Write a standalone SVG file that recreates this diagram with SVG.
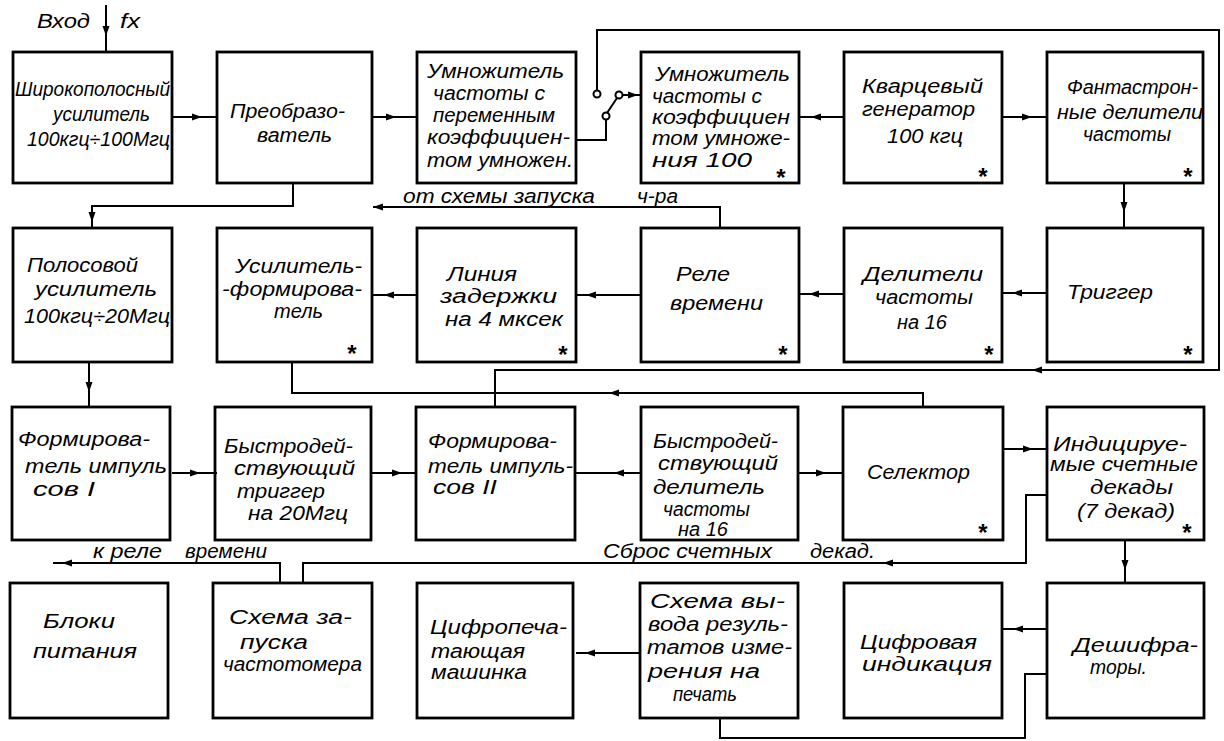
<svg xmlns="http://www.w3.org/2000/svg" xmlns:xlink="http://www.w3.org/1999/xlink" width="1224" height="741" viewBox="0 0 1224 741">
<style>
.box{fill:none;stroke:#000;stroke-width:2.8}
.ln{fill:none;stroke:#000;stroke-width:2}
.t{font-family:"Liberation Sans",Arial,sans-serif;font-style:italic;font-size:20px;fill:#000}
.lb{font-family:"Liberation Sans",Arial,sans-serif;font-style:italic;font-size:20px;fill:#000}
.st{font-family:"Liberation Sans",Arial,sans-serif;font-weight:bold;font-size:24px;fill:#000;text-anchor:middle}
.sw{fill:#fff;stroke:#000;stroke-width:2}
</style>
<defs>
<path id="ah" d="M0 0 L-10 -3.5 L-10 3.5 Z" fill="#000"/>
</defs>
<rect width="1224" height="741" fill="#fff"/>

<g id="connectors">
<path class="ln" d="M106 5 V52"/>
<use xlink:href="#ah" transform="translate(106,36) rotate(90)"/>
<path class="ln" d="M172 117 H217"/>
<use xlink:href="#ah" transform="translate(202,117)"/>
<path class="ln" d="M372 117 H417"/>
<use xlink:href="#ah" transform="translate(396,117)"/>
<path class="ln" d="M576 140 H606 V120"/>
<path class="ln" d="M607 113 L617 98"/>
<path class="ln" d="M622 95 H641"/>
<use xlink:href="#ah" transform="translate(638,95)"/>
<path class="ln" d="M597 90 V30 H1219 V370 H495 V407"/>
<use xlink:href="#ah" transform="translate(1032,370) rotate(180)"/>
<circle class="sw" cx="606" cy="116" r="3.5"/>
<circle class="sw" cx="619" cy="95" r="3.5"/>
<circle class="sw" cx="597" cy="94" r="3.5"/>
<path class="ln" d="M844 117 H799"/>
<use xlink:href="#ah" transform="translate(811,117) rotate(180)"/>
<path class="ln" d="M1002 117 H1047"/>
<use xlink:href="#ah" transform="translate(1032,117)"/>
<path class="ln" d="M1124 183 V228"/>
<use xlink:href="#ah" transform="translate(1124,212) rotate(90)"/>
<path class="ln" d="M1047 293 H1002"/>
<use xlink:href="#ah" transform="translate(1012,293) rotate(180)"/>
<path class="ln" d="M844 294 H799"/>
<use xlink:href="#ah" transform="translate(809,294) rotate(180)"/>
<path class="ln" d="M641 295 H576"/>
<use xlink:href="#ah" transform="translate(586,295) rotate(180)"/>
<path class="ln" d="M417 295 H372"/>
<use xlink:href="#ah" transform="translate(384,295) rotate(180)"/>
<path class="ln" d="M720 228 V207 H373"/>
<use xlink:href="#ah" transform="translate(373,207) rotate(180)"/>
<path class="ln" d="M293 183 V206 H92 V228"/>
<use xlink:href="#ah" transform="translate(92,222) rotate(90)"/>
<path class="ln" d="M89 362 V407"/>
<use xlink:href="#ah" transform="translate(89,392) rotate(90)"/>
<path class="ln" d="M172 473 H217"/>
<use xlink:href="#ah" transform="translate(200,473)"/>
<path class="ln" d="M372 473 H417"/>
<use xlink:href="#ah" transform="translate(402,473)"/>
<path class="ln" d="M576 473 H641"/>
<use xlink:href="#ah" transform="translate(614,473) rotate(180)"/>
<path class="ln" d="M799 473 H844"/>
<use xlink:href="#ah" transform="translate(826,473)"/>
<path class="ln" d="M1002 449 H1047"/>
<use xlink:href="#ah" transform="translate(1033,449)"/>
<path class="ln" d="M1125 540 V583"/>
<use xlink:href="#ah" transform="translate(1125,570) rotate(90)"/>
<path class="ln" d="M1047 495 H1026 V563 H303 V583"/>
<use xlink:href="#ah" transform="translate(883,563) rotate(180)"/>
<path class="ln" d="M280 583 V563 H53"/>
<use xlink:href="#ah" transform="translate(62,563) rotate(180)"/>
<path class="ln" d="M1047 629 H1002"/>
<use xlink:href="#ah" transform="translate(1013,629) rotate(180)"/>
<path class="ln" d="M1047 674 H1025 V738 H720 V718"/>
<path class="ln" d="M641 653 H576"/>
<use xlink:href="#ah" transform="translate(585,653) rotate(180)"/>
<path class="ln" d="M292 362 V393 H923 V407"/>
<use xlink:href="#ah" transform="translate(609,393) rotate(180)"/>
</g>

<g id="labels">
<text class="lb" x="37" y="28" textLength="53" lengthAdjust="spacingAndGlyphs">Вход</text>
<text class="lb" x="120" y="28" textLength="20" lengthAdjust="spacingAndGlyphs">fx</text>
<text class="lb" x="403" y="203" textLength="192" lengthAdjust="spacingAndGlyphs">от схемы запуска</text>
<text class="lb" x="637" y="203" textLength="41" lengthAdjust="spacingAndGlyphs">ч-ра</text>
<text class="lb" x="93" y="558" textLength="69" lengthAdjust="spacingAndGlyphs">к реле</text>
<text class="lb" x="185" y="558" textLength="82" lengthAdjust="spacingAndGlyphs">времени</text>
<text class="lb" x="603" y="558" textLength="169" lengthAdjust="spacingAndGlyphs">Сброс счетных</text>
<text class="lb" x="810" y="558" textLength="65" lengthAdjust="spacingAndGlyphs">декад.</text>
</g>

<g id="n-wideband">
<rect class="box" x="13" y="52" width="159" height="131"/>
<text class="t" x="15" y="96" textLength="155" lengthAdjust="spacingAndGlyphs">Широкополосный</text>
<text class="t" x="53" y="121" textLength="97" lengthAdjust="spacingAndGlyphs">усилитель</text>
<text class="t" x="27" y="146" textLength="143" lengthAdjust="spacingAndGlyphs">100кгц÷100Мгц</text>
</g>
<g id="n-converter">
<rect class="box" x="217" y="52" width="155" height="131"/>
<text class="t" x="230" y="118" textLength="115" lengthAdjust="spacingAndGlyphs">Преобразо-</text>
<text class="t" x="257" y="142" textLength="75" lengthAdjust="spacingAndGlyphs">ватель</text>
</g>
<g id="n-varmult">
<rect class="box" x="417" y="52" width="159" height="131"/>
<text class="t" x="427" y="78" textLength="137" lengthAdjust="spacingAndGlyphs">Умножитель</text>
<text class="t" x="433" y="100" textLength="112" lengthAdjust="spacingAndGlyphs">частоты с</text>
<text class="t" x="433" y="122" textLength="122" lengthAdjust="spacingAndGlyphs">переменным</text>
<text class="t" x="427" y="144" textLength="143" lengthAdjust="spacingAndGlyphs">коэффициен-</text>
<text class="t" x="427" y="167" textLength="146" lengthAdjust="spacingAndGlyphs">том умножен.</text>
</g>
<g id="n-mult100">
<rect class="box" x="641" y="52" width="158" height="131"/>
<text class="t" x="655" y="81" textLength="135" lengthAdjust="spacingAndGlyphs">Умножитель</text>
<text class="t" x="652" y="103" textLength="110" lengthAdjust="spacingAndGlyphs">частоты с</text>
<text class="t" x="652" y="124" textLength="138" lengthAdjust="spacingAndGlyphs">коэффициен</text>
<text class="t" x="652" y="145" textLength="138" lengthAdjust="spacingAndGlyphs">том умноже-</text>
<text class="t" x="652" y="167" textLength="100" lengthAdjust="spacingAndGlyphs">ния  100</text>
<text class="st" x="781" y="186">*</text>
</g>
<g id="n-quartz">
<rect class="box" x="844" y="52" width="158" height="131"/>
<text class="t" x="862" y="93" textLength="121" lengthAdjust="spacingAndGlyphs">Кварцевый</text>
<text class="t" x="862" y="116" textLength="113" lengthAdjust="spacingAndGlyphs">генератор</text>
<text class="t" x="887" y="143" textLength="76" lengthAdjust="spacingAndGlyphs">100 кгц</text>
<text class="st" x="983" y="185">*</text>
</g>
<g id="n-phantastron">
<rect class="box" x="1047" y="52" width="156" height="131"/>
<text class="t" x="1067" y="94" textLength="131" lengthAdjust="spacingAndGlyphs">Фантастрон-</text>
<text class="t" x="1057" y="119" textLength="146" lengthAdjust="spacingAndGlyphs">ные делители</text>
<text class="t" x="1083" y="141" textLength="88" lengthAdjust="spacingAndGlyphs">частоты</text>
<text class="st" x="1188" y="185">*</text>
</g>

<g id="n-bandpass">
<rect class="box" x="13" y="228" width="159" height="134"/>
<text class="t" x="27" y="272" textLength="111" lengthAdjust="spacingAndGlyphs">Полосовой</text>
<text class="t" x="35" y="296" textLength="122" lengthAdjust="spacingAndGlyphs">усилитель</text>
<text class="t" x="24" y="323" textLength="146" lengthAdjust="spacingAndGlyphs">100кгц÷20Мгц</text>
</g>
<g id="n-ampshaper">
<rect class="box" x="217" y="228" width="155" height="134"/>
<text class="t" x="235" y="273" textLength="127" lengthAdjust="spacingAndGlyphs">Усилитель-</text>
<text class="t" x="222" y="296" textLength="140" lengthAdjust="spacingAndGlyphs">-формирова-</text>
<text class="t" x="274" y="318" textLength="49" lengthAdjust="spacingAndGlyphs">тель</text>
<text class="st" x="352" y="362">*</text>
</g>
<g id="n-delay">
<rect class="box" x="417" y="228" width="159" height="134"/>
<text class="t" x="447" y="281" textLength="70" lengthAdjust="spacingAndGlyphs">Линия</text>
<text class="t" x="440" y="303" textLength="117" lengthAdjust="spacingAndGlyphs">задержки</text>
<text class="t" x="445" y="326" textLength="118" lengthAdjust="spacingAndGlyphs">на 4 мксек</text>
<text class="st" x="563" y="363">*</text>
</g>
<g id="n-relay">
<rect class="box" x="641" y="228" width="158" height="134"/>
<text class="t" x="676" y="281" textLength="54" lengthAdjust="spacingAndGlyphs">Реле</text>
<text class="t" x="670" y="310" textLength="93" lengthAdjust="spacingAndGlyphs">времени</text>
<text class="st" x="783" y="363">*</text>
</g>
<g id="n-div16">
<rect class="box" x="844" y="228" width="158" height="134"/>
<text class="t" x="863" y="281" textLength="120" lengthAdjust="spacingAndGlyphs">Делители</text>
<text class="t" x="875" y="304" textLength="98" lengthAdjust="spacingAndGlyphs">частоты</text>
<text class="t" x="897" y="329" textLength="50" lengthAdjust="spacingAndGlyphs">на 16</text>
<text class="st" x="989" y="363">*</text>
</g>
<g id="n-trigger">
<rect class="box" x="1047" y="228" width="156" height="134"/>
<text class="t" x="1067" y="299" textLength="86" lengthAdjust="spacingAndGlyphs">Триггер</text>
<text class="st" x="1188" y="363">*</text>
</g>

<g id="n-shaper1">
<rect class="box" x="12" y="407" width="158" height="133"/>
<text class="t" x="18" y="446" textLength="132" lengthAdjust="spacingAndGlyphs">Формирова-</text>
<text class="t" x="25" y="473" textLength="142" lengthAdjust="spacingAndGlyphs">тель импуль</text>
<text class="t" x="33" y="496" textLength="62" lengthAdjust="spacingAndGlyphs">сов I</text>
</g>
<g id="n-fasttrigger">
<rect class="box" x="215" y="407" width="156" height="133"/>
<text class="t" x="224" y="453" textLength="129" lengthAdjust="spacingAndGlyphs">Быстродей-</text>
<text class="t" x="234" y="475" textLength="121" lengthAdjust="spacingAndGlyphs">ствующий</text>
<text class="t" x="237" y="498" textLength="88" lengthAdjust="spacingAndGlyphs">триггер</text>
<text class="t" x="248" y="520" textLength="100" lengthAdjust="spacingAndGlyphs">на 20Мгц</text>
</g>
<g id="n-shaper2">
<rect class="box" x="416" y="407" width="159" height="133"/>
<text class="t" x="428" y="448" textLength="129" lengthAdjust="spacingAndGlyphs">Формирова-</text>
<text class="t" x="428" y="473" textLength="145" lengthAdjust="spacingAndGlyphs">тель импуль-</text>
<text class="t" x="433" y="494" textLength="64" lengthAdjust="spacingAndGlyphs">сов II</text>
</g>
<g id="n-fastdiv">
<rect class="box" x="641" y="407" width="157" height="133"/>
<text class="t" x="653" y="448" textLength="125" lengthAdjust="spacingAndGlyphs">Быстродей-</text>
<text class="t" x="658" y="470" textLength="120" lengthAdjust="spacingAndGlyphs">ствующий</text>
<text class="t" x="653" y="494" textLength="112" lengthAdjust="spacingAndGlyphs">делитель</text>
<text class="t" x="663" y="516" textLength="87" lengthAdjust="spacingAndGlyphs">частоты</text>
<text class="t" x="678" y="536" textLength="50" lengthAdjust="spacingAndGlyphs">на 16</text>
</g>
<g id="n-selector">
<rect class="box" x="843" y="407" width="160" height="133"/>
<text class="t" x="867" y="479" textLength="103" lengthAdjust="spacingAndGlyphs">Селектор</text>
<text class="st" x="983" y="541">*</text>
</g>
<g id="n-decades">
<rect class="box" x="1047" y="407" width="157" height="133"/>
<text class="t" x="1053" y="451" textLength="134" lengthAdjust="spacingAndGlyphs">Индицируе-</text>
<text class="t" x="1050" y="471" textLength="148" lengthAdjust="spacingAndGlyphs">мые счетные</text>
<text class="t" x="1090" y="494" textLength="83" lengthAdjust="spacingAndGlyphs">декады</text>
<text class="t" x="1077" y="518" textLength="98" lengthAdjust="spacingAndGlyphs">(7 декад)</text>
<text class="st" x="1187" y="541">*</text>
</g>

<g id="n-power">
<rect class="box" x="10" y="583" width="158" height="135"/>
<text class="t" x="43" y="628" textLength="72" lengthAdjust="spacingAndGlyphs">Блоки</text>
<text class="t" x="33" y="658" textLength="104" lengthAdjust="spacingAndGlyphs">питания</text>
</g>
<g id="n-start">
<rect class="box" x="213" y="583" width="159" height="135"/>
<text class="t" x="229" y="624" textLength="123" lengthAdjust="spacingAndGlyphs">Схема за-</text>
<text class="t" x="240" y="649" textLength="68" lengthAdjust="spacingAndGlyphs">пуска</text>
<text class="t" x="223" y="671" textLength="139" lengthAdjust="spacingAndGlyphs">частотомера</text>
</g>
<g id="n-printer">
<rect class="box" x="417" y="583" width="156" height="135"/>
<text class="t" x="430" y="634" textLength="137" lengthAdjust="spacingAndGlyphs">Цифропеча-</text>
<text class="t" x="431" y="658" textLength="94" lengthAdjust="spacingAndGlyphs">тающая</text>
<text class="t" x="431" y="679" textLength="96" lengthAdjust="spacingAndGlyphs">машинка</text>
</g>
<g id="n-output">
<rect class="box" x="640" y="583" width="158" height="135"/>
<text class="t" x="650" y="608" textLength="135" lengthAdjust="spacingAndGlyphs">Схема вы-</text>
<text class="t" x="648" y="631" textLength="140" lengthAdjust="spacingAndGlyphs">вода резуль-</text>
<text class="t" x="647" y="654" textLength="145" lengthAdjust="spacingAndGlyphs">татов изме-</text>
<text class="t" x="648" y="678" textLength="112" lengthAdjust="spacingAndGlyphs">рения на</text>
<text class="t" x="673" y="701" textLength="64" lengthAdjust="spacingAndGlyphs">печать</text>
</g>
<g id="n-display">
<rect class="box" x="844" y="583" width="158" height="135"/>
<text class="t" x="860" y="649" textLength="117" lengthAdjust="spacingAndGlyphs">Цифровая</text>
<text class="t" x="862" y="671" textLength="130" lengthAdjust="spacingAndGlyphs">индикация</text>
</g>
<g id="n-decoders">
<rect class="box" x="1047" y="583" width="157" height="135"/>
<text class="t" x="1073" y="652" textLength="125" lengthAdjust="spacingAndGlyphs">Дешифра-</text>
<text class="t" x="1090" y="674" textLength="57" lengthAdjust="spacingAndGlyphs">торы.</text>
</g>
</svg>
